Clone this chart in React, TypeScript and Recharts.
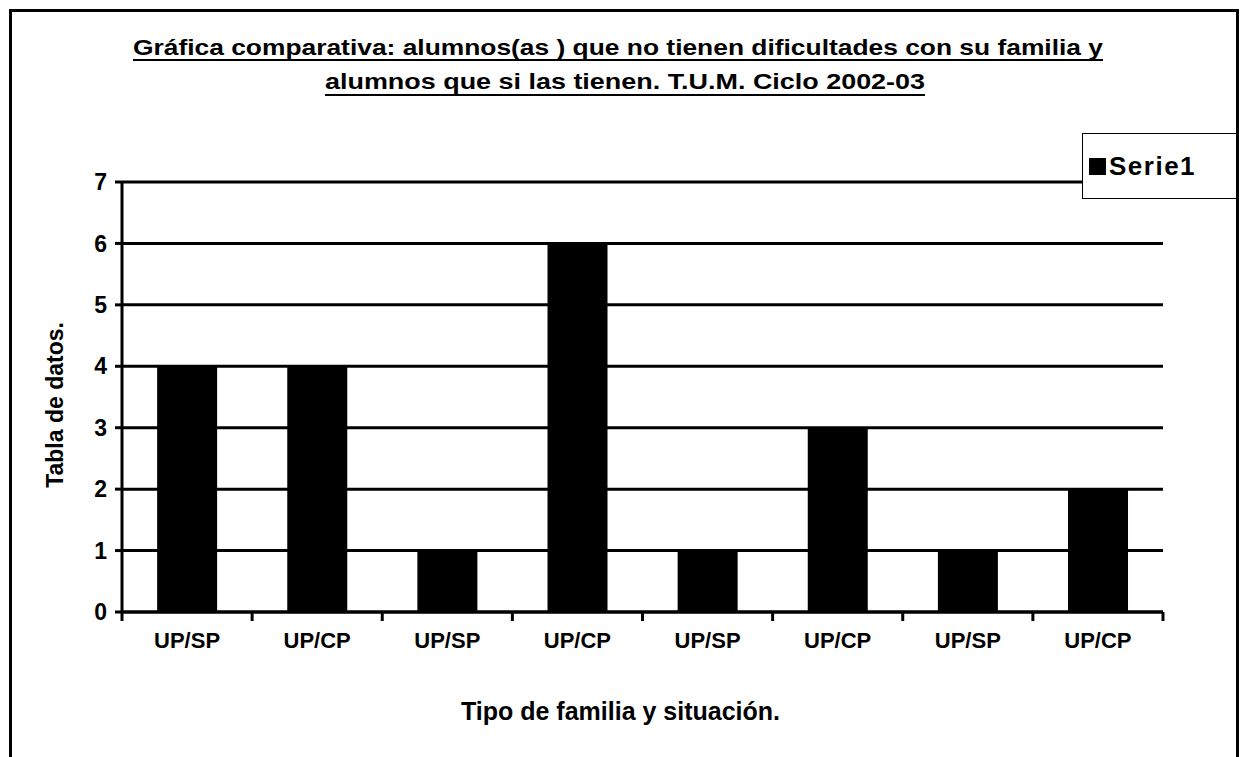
import React from "react";
import {
  BarChart,
  Bar,
  XAxis,
  YAxis,
  CartesianGrid,
  Legend,
  Label,
} from "recharts";

const categories = ["UP/SP", "UP/CP", "UP/SP", "UP/CP", "UP/SP", "UP/CP", "UP/SP", "UP/CP"];
const serie1 = [4, 4, 1, 6, 1, 3, 1, 2];
const yTicks = [0, 1, 2, 3, 4, 5, 6, 7];

const titleLines = [
  "Gráfica comparativa: alumnos(as ) que no tienen dificultades con su familia y",
  "alumnos que si las tienen. T.U.M.  Ciclo 2002-03",
];

const data = categories.map((name, i) => ({ key: i, name, value: serie1[i] }));

const FONT = "'Liberation Sans', Arial, sans-serif";
const W = 1242;
const H = 757;
const PLOT_LEFT = 122;
const PLOT_RIGHT = 1163;
const HALF_BAND = (PLOT_RIGHT - PLOT_LEFT) / categories.length / 2;

const XTick = (props: any) => {
  const { x, y, payload, index } = props;
  return (
    <g>
      <line x1={x - HALF_BAND} x2={x - HALF_BAND} y1={y} y2={y + 9} stroke="#000" strokeWidth={3} />
      {index === categories.length - 1 && (
        <line x1={x + HALF_BAND} x2={x + HALF_BAND} y1={y} y2={y + 9} stroke="#000" strokeWidth={3} />
      )}
      <text
        x={x}
        y={y + 36}
        textAnchor="middle"
        fontFamily={FONT}
        fontWeight="bold"
        fontSize={22}
        fill="#000"
      >
        {categories[payload.value]}
      </text>
    </g>
  );
};

const LegendBox = (props: any) => {
  const item = props.payload && props.payload[0];
  return (
    <div
      style={{
        width: 156,
        height: 66,
        border: "1px solid #000",
        borderRight: "none",
        background: "#fff",
        boxSizing: "border-box",
        display: "flex",
        alignItems: "center",
        paddingLeft: 6,
        fontFamily: FONT,
        fontWeight: "bold",
        fontSize: 26,
        letterSpacing: 1.5,
        color: "#000",
      }}
    >
      <span style={{ width: 17, height: 17, background: "#000", display: "inline-block", marginRight: 3 }} />
      {item ? item.value : "Serie1"}
    </div>
  );
};

export default function App() {
  return (
    <div style={{ position: "absolute", left: 0, top: 0, width: W, height: H, overflow: "hidden", background: "#fff" }}>
      <BarChart
        width={W}
        height={H}
        data={data}
        margin={{ top: 182, right: W - PLOT_RIGHT, bottom: 35, left: PLOT_LEFT - 60 }}
        barCategoryGap="27%"
      >
        <CartesianGrid vertical={false} stroke="#000" strokeWidth={3} />
        <XAxis
          dataKey="key"
          type="category"
          height={110}
          tickLine={false}
          tickSize={0}
          tickMargin={0}
          axisLine={{ stroke: "#000", strokeWidth: 3 }}
          tick={<XTick />}
          interval={0}
        >
          <Label
            value="Tipo de familia y situación."
            position="insideBottom"
            offset={2}
            dx={-22}
            style={{ fontFamily: FONT, fontWeight: "bold", fontSize: 25, fill: "#000" }}
          />
        </XAxis>
        <YAxis
          width={60}
          domain={[0, 7]}
          ticks={yTicks}
          interval={0}
          tickSize={7}
          tickMargin={8}
          tickLine={{ stroke: "#000", strokeWidth: 3 }}
          axisLine={{ stroke: "#000", strokeWidth: 3 }}
          tick={{ fontFamily: FONT, fontWeight: "bold", fontSize: 23, fill: "#000" }}
        >
          <Label
            content={(p: any) => {
              const vb = p.viewBox || {};
              const cx = 63;
              const cy = vb.y + vb.height / 2 + 8;
              return (
                <text
                  x={cx}
                  y={cy}
                  transform={`rotate(-90 ${cx} ${cy})`}
                  textAnchor="middle"
                  fontFamily={FONT}
                  fontWeight="bold"
                  fontSize={23}
                  fill="#000"
                >
                  Tabla de datos.
                </text>
              );
            }}
          />
        </YAxis>
        <Legend
          layout="horizontal"
          align="center"
          verticalAlign="middle"
          content={<LegendBox />}
          wrapperStyle={{ position: "absolute", left: 1082, top: 133, width: 156, height: 66 }}
        />
        <Bar dataKey="value" name="Serie1" fill="#000" isAnimationActive={false} />
      </BarChart>

      <svg width={W} height={120} style={{ position: "absolute", left: 0, top: 0, pointerEvents: "none" }}>
        <text x={618} y={55} textAnchor="middle" fontFamily={FONT} fontWeight="bold" fontSize={22}
          textLength={970} lengthAdjust="spacingAndGlyphs" fill="#000">
          {titleLines[0]}
        </text>
        <line x1={133} x2={1103} y1={60} y2={60} stroke="#000" strokeWidth={2} />
        <text x={625} y={89} textAnchor="middle" fontFamily={FONT} fontWeight="bold" fontSize={22}
          textLength={600} lengthAdjust="spacingAndGlyphs" fill="#000">
          {titleLines[1]}
        </text>
        <line x1={325} x2={925} y1={95} y2={95} stroke="#000" strokeWidth={2} />
      </svg>

      <div
        style={{
          position: "absolute",
          left: 9,
          top: 9,
          width: 1230,
          height: 800,
          border: "3px solid #000",
          boxSizing: "border-box",
          pointerEvents: "none",
        }}
      />
    </div>
  );
}
